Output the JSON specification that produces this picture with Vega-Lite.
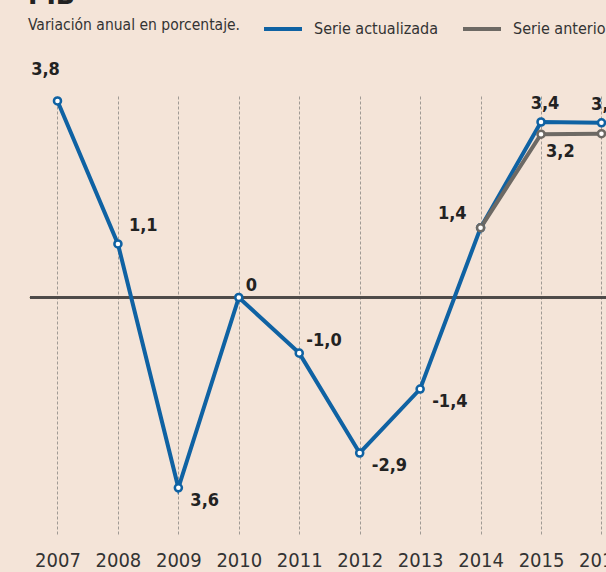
{
  "$schema": "https://vega.github.io/schema/vega-lite/v6.json",
  "width": 606,
  "height": 439,
  "autosize": {"type": "none"},
  "padding": {"top": 96, "bottom": 37, "left": 0, "right": 0},
  "background": "#f4e4d8",
  "config": {"view": {"stroke": null}, "font": "'DejaVu Sans Condensed', Roboto, sans-serif"},
  "title": {
    "text": "PIB",
    "subtitle": "Variación anual en porcentaje.",
    "anchor": "start",
    "frame": "group",
    "dx": 28,
    "offset": -25,
    "fontSize": 28,
    "fontWeight": "bold",
    "color": "#222222",
    "subtitleFontSize": 15.5,
    "subtitleColor": "#333333",
    "subtitlePadding": 8
  },
  "data": {
    "values": [
      {"year": 2007, "value": 3.78, "serie": "Serie actualizada", "label": "3,8"},
      {"year": 2008, "value": 1.03, "serie": "Serie actualizada", "label": "1,1"},
      {"year": 2009, "value": -3.66, "serie": "Serie actualizada", "label": "3,6"},
      {"year": 2010, "value": 0, "serie": "Serie actualizada", "label": "0"},
      {"year": 2011, "value": -1.07, "serie": "Serie actualizada", "label": "-1,0"},
      {"year": 2012, "value": -2.99, "serie": "Serie actualizada", "label": "-2,9"},
      {"year": 2013, "value": -1.76, "serie": "Serie actualizada", "label": "-1,4"},
      {"year": 2014, "value": 1.34, "serie": "Serie actualizada", "label": "1,4"},
      {"year": 2015, "value": 3.375, "serie": "Serie actualizada", "label": "3,4"},
      {"year": 2016, "value": 3.36, "serie": "Serie actualizada", "label": "3,3"},
      {"year": 2014, "value": 1.34, "serie": "Serie anterior", "label": "1,4"},
      {"year": 2015, "value": 3.14, "serie": "Serie anterior", "label": "3,2"},
      {"year": 2016, "value": 3.15, "serie": "Serie anterior", "label": "3,2"}
    ]
  },
  "encoding": {
    "x": {
      "field": "year",
      "type": "quantitative",
      "scale": {"domain": [2006.049, 2016.075], "nice": false, "zero": false},
      "axis": {
        "values": [2007, 2008, 2009, 2010, 2011, 2012, 2013, 2014, 2015, 2016],
        "format": "d",
        "title": null,
        "grid": true,
        "gridDash": [3, 2],
        "gridColor": "#a09a94",
        "gridWidth": 1,
        "domain": false,
        "ticks": false,
        "labelFontSize": 20,
        "labelColor": "#333333",
        "labelPadding": 15,
        "labelFlush": false,
        "labelOverlap": false,
        "labelBound": false
      }
    },
    "y": {
      "field": "value",
      "type": "quantitative",
      "scale": {"domain": [-4.567, 3.875], "nice": false, "zero": false},
      "axis": null
    }
  },
  "layer": [
    {
      "mark": {"type": "rule", "color": "#4d4a47", "strokeWidth": 1.5},
      "encoding": {
        "x": {"datum": 2006.545, "type": "quantitative"},
        "x2": {"datum": 2016.075},
        "y": {"datum": 0, "type": "quantitative"}
      }
    },
    {
      "mark": {"type": "line", "strokeWidth": 4},
      "encoding": {
        "color": {
          "field": "serie",
          "type": "nominal",
          "scale": {"domain": ["Serie actualizada", "Serie anterior"], "range": ["#0f62a3", "#6d6964"]},
          "sort": ["Serie anterior", "Serie actualizada"],
          "legend": {
            "orient": "none",
            "legendX": 262,
            "legendY": -88,
            "direction": "horizontal",
            "title": null,
            "symbolType": "stroke",
            "symbolSize": 1444,
            "symbolStrokeWidth": 4,
            "labelFontSize": 16,
            "labelColor": "#333333",
            "labelOffset": 10,
            "columnPadding": 17,
            "values": ["Serie actualizada", "Serie anterior"]
          }
        },
        "order": {"field": "year"}
      }
    },
    {
      "mark": {"type": "point", "filled": false, "fill": "white", "fillOpacity": 1, "opacity": 1, "strokeWidth": 2.5, "size": 50},
      "encoding": {
        "color": {"field": "serie", "type": "nominal", "legend": null}
      }
    },
    {
      "transform": [{"filter": "datum.serie == 'Serie actualizada' && datum.year == 2007"}],
      "mark": {"type": "text", "fontWeight": "bold", "fontSize": 18, "color": "#222222", "align": "center", "baseline": "middle", "dx": -12, "dy": -31},
      "encoding": {"text": {"field": "label"}}
    },
    {
      "transform": [{"filter": "datum.serie == 'Serie actualizada' && datum.year == 2008"}],
      "mark": {"type": "text", "fontWeight": "bold", "fontSize": 18, "color": "#222222", "align": "left", "baseline": "middle", "dx": 11, "dy": -18},
      "encoding": {"text": {"field": "label"}}
    },
    {
      "transform": [{"filter": "datum.serie == 'Serie actualizada' && (datum.year == 2010 || datum.year == 2011)"}],
      "mark": {"type": "text", "fontWeight": "bold", "fontSize": 18, "color": "#222222", "align": "left", "baseline": "middle", "dx": 7, "dy": -12},
      "encoding": {"text": {"field": "label"}}
    },
    {
      "transform": [{"filter": "datum.serie == 'Serie actualizada' && (datum.year == 2009 || datum.year == 2012 || datum.year == 2013)"}],
      "mark": {"type": "text", "fontWeight": "bold", "fontSize": 18, "color": "#222222", "align": "left", "baseline": "middle", "dx": 12, "dy": 13},
      "encoding": {"text": {"field": "label"}}
    },
    {
      "transform": [{"filter": "datum.serie == 'Serie actualizada' && datum.year == 2014"}],
      "mark": {"type": "text", "fontWeight": "bold", "fontSize": 18, "color": "#222222", "align": "right", "baseline": "middle", "dx": -14, "dy": -14},
      "encoding": {"text": {"field": "label"}}
    },
    {
      "transform": [{"filter": "datum.serie == 'Serie actualizada' && datum.year >= 2015"}],
      "mark": {"type": "text", "fontWeight": "bold", "fontSize": 18, "color": "#222222", "align": "center", "baseline": "middle", "dx": 4, "dy": -18},
      "encoding": {"text": {"field": "label"}}
    },
    {
      "transform": [{"filter": "datum.serie == 'Serie anterior' && datum.year == 2015"}],
      "mark": {"type": "text", "fontWeight": "bold", "fontSize": 18, "color": "#222222", "align": "left", "baseline": "middle", "dx": 5, "dy": 18},
      "encoding": {"text": {"field": "label"}}
    }
  ]
}
